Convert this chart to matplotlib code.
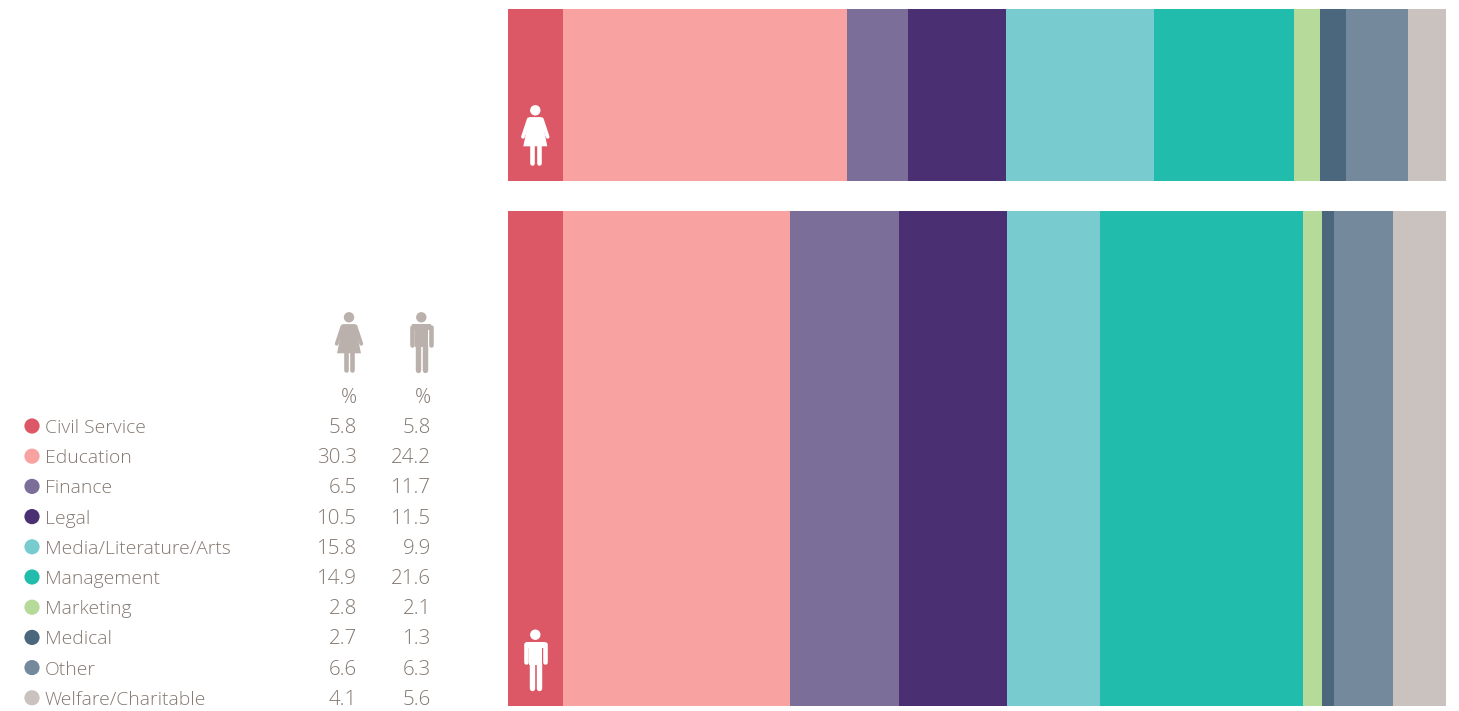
import matplotlib
matplotlib.use('Agg')
import matplotlib.pyplot as plt
from matplotlib.patches import Circle, Polygon

categories = ['Civil Service', 'Education', 'Finance', 'Legal', 'Media/Literature/Arts',
              'Management', 'Marketing', 'Medical', 'Other', 'Welfare/Charitable']
women = [5.8, 30.3, 6.5, 10.5, 15.8, 14.9, 2.8, 2.7, 6.6, 4.1]
men = [5.8, 24.2, 11.7, 11.5, 9.9, 21.6, 2.1, 1.3, 6.3, 5.6]
colors = ['#DD5866', '#F8A2A2', '#7B6F99', '#4A3073', '#78CCD0',
          '#21BCAB', '#B5DA9A', '#4A677D', '#74899C', '#CAC2BF']

W, H = 1459, 711
TEXT = '#847971'
ICON = '#BBB1AC'
plt.rcParams['font.family'] = ['Open Sans', 'DejaVu Sans']

fig = plt.figure(figsize=(W / 100, H / 100), dpi=100)


def bar_axes(top, bottom, values):
    ax = fig.add_axes([508.4 / W, 1 - bottom / H, 937.6 / W, (bottom - top) / H])
    left = 0
    for v, c in zip(values, colors):
        ax.barh(0, v, left=left, height=1, color=c, linewidth=0)
        left += v
    ax.set_xlim(0, 100)
    ax.set_ylim(-0.5, 0.5)
    ax.axis('off')


bar_axes(9, 181, women)
bar_axes(211, 706, men)

# overlay in pixel units for the table and the icons
ov = fig.add_axes([0, 0, 1, 1], zorder=5)
ov.set_xlim(0, W)
ov.set_ylim(H, 0)
ov.axis('off')
ov.patch.set_alpha(0)


def stroke(x, y, width, color):
    ov.plot(x, y, color=color, lw=width * 0.72, solid_capstyle='round', solid_joinstyle='round')


def woman(cx, cy, color):
    ov.add_patch(Circle((cx, cy), 5.2, color=color, lw=0))
    ov.add_patch(Polygon([(cx - 6, cy + 6.8), (cx + 6, cy + 6.8), (cx + 12, cy + 36), (cx - 12, cy + 36)],
                         closed=True, color=color, lw=0))
    for s in (-1, 1):
        stroke([cx + s * 6.5, cx + s * 12.3], [cy + 9, cy + 26.5], 3.8, color)
        stroke([cx + s * 3.2, cx + s * 3.2], [cy + 36, cy + 52.8], 4.6, color)


def man(cx, cy, color):
    ov.add_patch(Circle((cx, cy), 5.2, color=color, lw=0))
    ov.add_patch(Polygon([(cx - 6.4, cy + 7), (cx + 6.4, cy + 7), (cx + 6.4, cy + 30), (cx - 6.4, cy + 30)],
                         closed=True, color=color, lw=0))
    ov.add_patch(Polygon([(cx - 9.5, cy + 7), (cx + 9.5, cy + 7), (cx + 9.5, cy + 13), (cx - 9.5, cy + 13)],
                         closed=True, color=color, lw=0))
    for s in (-1, 1):
        stroke([cx + s * 9.5, cx + s * 9.5], [cy + 9.5, cy + 27.5], 4.6, color)
        stroke([cx + s * 3.4, cx + s * 3.4], [cy + 28, cy + 52.8], 5.4, color)


woman(535.3, 110.3, 'white')
man(535.3, 634.7, 'white')
woman(349, 317.3, ICON)
man(421.3, 317.3, ICON)

fs = 14.3
ov.text(357, 398, '%', ha='right', va='center', fontsize=fs, color=TEXT, fontweight='light')
ov.text(431, 398, '%', ha='right', va='center', fontsize=fs, color=TEXT, fontweight='light')

for i, name in enumerate(categories):
    y = 426 + i * 30.2
    ov.add_patch(Circle((32, y), 7.6, color=colors[i], lw=0))
    ov.text(45, y + 2, name, ha='left', va='center', fontsize=fs - 0.4, color=TEXT, fontweight='light')
    ov.text(357, y + 2, f'{women[i]:.1f}', ha='right', va='center', fontsize=fs + 0.5, color=TEXT, fontweight='light')
    ov.text(431, y + 2, f'{men[i]:.1f}', ha='right', va='center', fontsize=fs + 0.5, color=TEXT, fontweight='light')

fig.savefig('out.png', dpi=100)
